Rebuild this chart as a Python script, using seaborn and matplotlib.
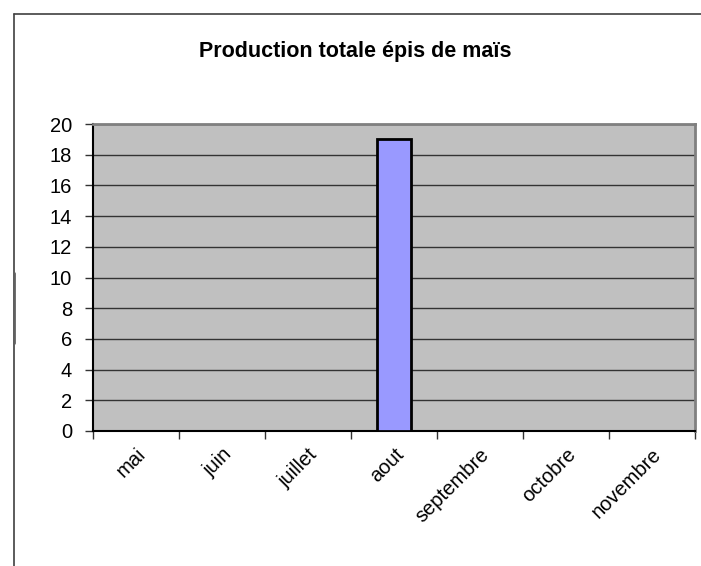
import matplotlib
matplotlib.use("Agg")
import matplotlib.pyplot as plt
from matplotlib.lines import Line2D
import seaborn as sns
import pandas as pd
import numpy as np

months = ["mai", "juin", "juillet", "aout", "septembre", "octobre", "novembre"]
production = [0, 0, 0, 19, 0, 0, 0]
y_ticks = [0, 2, 4, 6, 8, 10, 12, 14, 16, 18, 20]
title = "Production totale épis de maïs"

sns.set_theme(style="white")
plt.rcParams['font.family'] = ['Liberation Sans', 'DejaVu Sans']

df = pd.DataFrame({"mois": months, "production": production})

fig = plt.figure(figsize=(7.01, 5.66), dpi=100)
ax = fig.add_axes([93/701, 1-431/566, (695-93)/701, (431-124)/566])
ax.set_facecolor("#C0C0C0")

sns.barplot(data=df, x="mois", y="production", ax=ax, color="#9999FF",
            saturation=1, width=0.4, edgecolor="black", linewidth=2, zorder=3)

ax.set_ylim(0, 20)
ax.set_xlim(-0.5, len(months) - 0.5)
ax.set_yticks(y_ticks)
ax.set_yticklabels([str(v) for v in y_ticks], fontsize=14.5, color="black")
ax.yaxis.grid(True, color="#333333", linewidth=1.0, zorder=1)
ax.set_axisbelow(True)
ax.tick_params(axis="y", which="major", length=6, width=1, color="#333333",
               left=True, pad=9)

ax.set_xticks(range(len(months)))
ax.set_xticklabels(months, rotation=45, ha="right", rotation_mode="anchor",
                   fontsize=14.5, color="black")
ax.tick_params(axis="x", which="major", length=0, pad=10)
ax.set_xticks(np.arange(-0.5, len(months), 1.0), minor=True)
ax.tick_params(axis="x", which="minor", length=6, width=1, color="#333333",
               bottom=True)

ax.set_xlabel("")
ax.set_ylabel("")

for s in ["left", "bottom"]:
    ax.spines[s].set_color("black")
    ax.spines[s].set_linewidth(1.5)
    ax.spines[s].set_visible(True)
for s in ["top", "right"]:
    ax.spines[s].set_color("#808080")
    ax.spines[s].set_linewidth(2)
    ax.spines[s].set_visible(True)

fig.text(355/701, 1-52/566, title, ha="center", va="center",
         fontsize=15.5, fontweight="bold", color="black")

# outer chart frame (top and left edges)
fig.add_artist(Line2D([14/701, 1.0], [1-14/566, 1-14/566],
                      transform=fig.transFigure, color="#404040", linewidth=1.2))
fig.add_artist(Line2D([14/701, 14/701], [1-14/566, 0.0],
                      transform=fig.transFigure, color="#404040", linewidth=1.2))
fig.add_artist(Line2D([14/701, 14/701], [1-273/566, 1-343/566],
                      transform=fig.transFigure, color="#606060", linewidth=2.0))

fig.savefig("out.png", dpi=100)
